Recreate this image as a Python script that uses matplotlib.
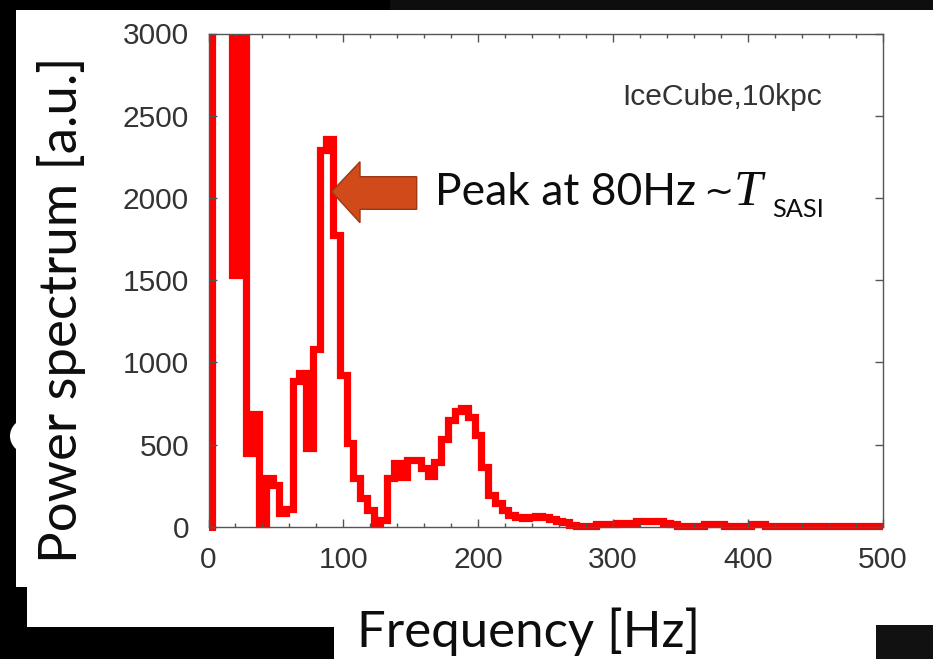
import matplotlib
matplotlib.use("Agg")
import matplotlib.pyplot as plt
from matplotlib.patches import Rectangle, Polygon, Ellipse
import numpy as np

# bin centres [Hz] and power per bin (a.u.)
freq = np.arange(5, 501, 5)
power = [9800, 7400, 5600, 1530, 3900, 450, 685, 15, 295, 255,
         85, 105, 885, 935, 480, 1080, 2290, 2360, 1775, 923,
         507, 298, 175, 102, 15, 40, 295, 390, 305, 405,
         405, 355, 308, 395, 532, 650, 705, 725, 670, 558,
         365, 195, 142, 100, 69, 61, 55, 62, 67, 62,
         47, 37, 27, 10, 4, 4, 4, 18, 18, 18,
         20, 20, 20, 35, 35, 35, 35, 25, 18, 5,
         5, 5, 5, 18, 18, 15, 3, 3, 3, 5,
         15, 15, 5, 6, 5, 5, 4, 5, 6, 5,
         5, 4, 4, 5, 5, 6, 5, 5, 4, 5]

x_ticks = [0, 100, 200, 300, 400, 500]
x_minor = list(range(0, 501, 20))
y_ticks = [0, 500, 1000, 1500, 2000, 2500, 3000]

W, H = 933, 659


def fx(x):
    return x / W


def fy(y):
    return 1 - y / H


plt.rcParams['font.family'] = ['Liberation Sans', 'DejaVu Sans']

fig = plt.figure(figsize=(W / 100, H / 100), dpi=100)
fig.patch.set_facecolor('white')

# black slide background around the white panel
dark = [(0, 0, 390, 10, '#000000'), (390, 0, 543, 10, '#0e0e0e'),
        (0, 0, 16, 587, '#000000'), (0, 587, 27, 72, '#000000'),
        (0, 627, 334, 32, '#000000'), (876, 625, 57, 34, '#111111')]
for x, y, w, h, c in dark:
    fig.add_artist(Rectangle((fx(x), fy(y + h)), w / W, h / H,
                             transform=fig.transFigure, color=c, lw=0, zorder=0))
fig.add_artist(Ellipse((fx(27), fy(436)), 34 / W, 34 / H, transform=fig.transFigure,
                       color='white', lw=0, zorder=0.5))

ax = fig.add_axes([fx(208.5), fy(526.7), 674 / W, 493.2 / H])

edges = np.append(freq - 2.5, freq[-1] + 2.5)
st = ax.stairs(power, edges, baseline=0, color='#ff0000', lw=5.2, zorder=1)
st.set_joinstyle('miter')
st.set_capstyle('projecting')
clip = Rectangle((0, -25), 500, 3025, transform=ax.transData)
st.set_clip_path(clip)

ax.set_xlim(0, 500)
ax.set_ylim(0, 3000)
ax.set_xticks(x_ticks)
ax.set_xticks(x_minor, minor=True)
ax.set_yticks(y_ticks)
for s in ax.spines.values():
    s.set_color('#555555')
    s.set_linewidth(1.0)
ax.tick_params(which='major', direction='in', length=6, width=1, color='#555555',
               top=True, right=True, labelsize=21.5, labelcolor='#333333', pad=14)
ax.tick_params(which='minor', direction='in', length=3, width=1, color='#555555',
               top=True)

fig.text(fx(822), fy(97), 'IceCube,10kpc', ha='right', va='center',
         fontsize=21.6, color='#333333')

# big slide labels
ylab = fig.text(fx(77), fy(310), 'Power spectrum [a.u.]', rotation=90,
                rotation_mode='anchor', ha='center', va='baseline',
                family='Lato', fontsize=40, color='#0d0d0d')
xlab = fig.text(fx(529), fy(646.7), 'Frequency [Hz]', ha='center', va='baseline',
                family='Lato', fontsize=40, color='#0d0d0d')

# arrow + annotation
arrow_pts = [(331.7, 191.7), (360, 161.7), (360, 176.7), (416.7, 176.7),
             (416.7, 209.3), (360, 209.3), (360, 222.7)]
fig.add_artist(Polygon([(fx(a), fy(b)) for a, b in arrow_pts], closed=True,
                       transform=fig.transFigure, facecolor='#d04a1a',
                       edgecolor='#9c3a16', lw=1.0, zorder=5))

peak = fig.text(fx(435), fy(205), 'Peak at 80Hz', ha='left', va='baseline',
                family='Lato', fontsize=30, color='#0d0d0d')
tilde = fig.text(fx(718), fy(203), '~', ha='center', va='baseline',
                 family='DejaVu Sans', fontsize=26, color='#0d0d0d')
tt = fig.text(fx(734), fy(205), 'T', ha='left', va='baseline',
              family='Liberation Serif', style='italic', fontsize=37, color='#0d0d0d')
sasi = fig.text(fx(772), fy(216.7), 'SASI', ha='left', va='baseline',
                family='Lato', fontsize=16, color='#0d0d0d')

r = fig.canvas.get_renderer()


def fit(t, target, vertical=False):
    bb = t.get_window_extent(renderer=r)
    cur = bb.height if vertical else bb.width
    t.set_fontsize(t.get_fontsize() * target / cur)


fit(ylab, 506, vertical=True)
fit(xlab, 342)
fit(peak, 260)
fit(sasi, 51.6)

fig.savefig('out.png', dpi=100)
